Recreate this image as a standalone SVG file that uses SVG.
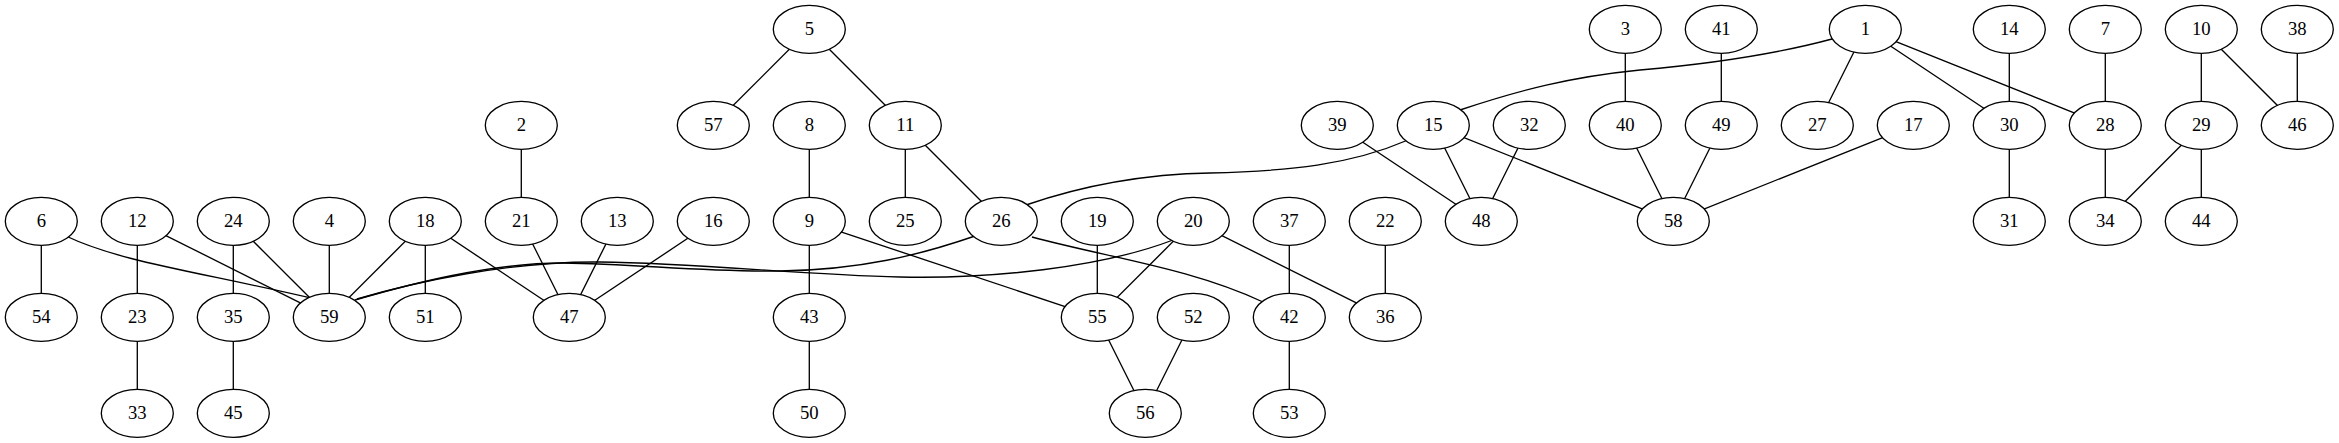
<svg xmlns="http://www.w3.org/2000/svg" width="2339" height="443" viewBox="0 0 2339 443">
<style>
.n ellipse{fill:#fff;stroke:#000;stroke-width:1.33}
.n text{font-family:"Liberation Serif","Times New Roman",serif;font-size:18.67px;text-anchor:middle;fill:#000}
#edges line,#edges path{stroke:#000;stroke-width:1.33;fill:none}
</style>
<rect width="2339" height="443" fill="#fff"/>
<g id="edges">
<line x1="809.3" y1="29.3" x2="713.3" y2="125.3"/>
<line x1="809.3" y1="29.3" x2="905.3" y2="125.3"/>
<line x1="905.3" y1="125.3" x2="905.3" y2="221.3"/>
<line x1="905.3" y1="125.3" x2="1001.3" y2="221.3"/>
<line x1="809.3" y1="125.3" x2="809.3" y2="221.3"/>
<line x1="809.3" y1="221.3" x2="809.3" y2="317.3"/>
<line x1="809.3" y1="221.3" x2="1097.3" y2="317.3"/>
<line x1="809.3" y1="317.3" x2="809.3" y2="413.3"/>
<line x1="521.3" y1="125.3" x2="521.3" y2="221.3"/>
<line x1="521.3" y1="221.3" x2="569.3" y2="317.3"/>
<line x1="617.3" y1="221.3" x2="569.3" y2="317.3"/>
<line x1="713.3" y1="221.3" x2="569.3" y2="317.3"/>
<line x1="425.3" y1="221.3" x2="569.3" y2="317.3"/>
<line x1="425.3" y1="221.3" x2="329.3" y2="317.3"/>
<line x1="425.3" y1="221.3" x2="425.3" y2="317.3"/>
<line x1="41.3" y1="221.3" x2="41.3" y2="317.3"/>
<path d="M66,236 C120,262 200,272 315,299"/>
<line x1="137.3" y1="221.3" x2="137.3" y2="317.3"/>
<line x1="137.3" y1="221.3" x2="329.3" y2="317.3"/>
<line x1="233.3" y1="221.3" x2="233.3" y2="317.3"/>
<line x1="233.3" y1="221.3" x2="329.3" y2="317.3"/>
<line x1="329.3" y1="221.3" x2="329.3" y2="317.3"/>
<line x1="137.3" y1="317.3" x2="137.3" y2="413.3"/>
<line x1="233.3" y1="317.3" x2="233.3" y2="413.3"/>
<path d="M975,236 C920,255 860,270 780,271 C700,272 640,264 563,263 C490,263 410,284 355,300"/>
<path d="M1032,237 C1110,258 1190,268 1263,302"/>
<path d="M1173,240 C1100,268 990,279 900,277 C800,275 700,263 600,262 C510,261 415,282 357,299"/>
<line x1="1193.3" y1="221.3" x2="1097.3" y2="317.3"/>
<line x1="1193.3" y1="221.3" x2="1385.3" y2="317.3"/>
<line x1="1097.3" y1="221.3" x2="1097.3" y2="317.3"/>
<line x1="1097.3" y1="317.3" x2="1145.3" y2="413.3"/>
<line x1="1193.3" y1="317.3" x2="1145.3" y2="413.3"/>
<line x1="1289.3" y1="221.3" x2="1289.3" y2="317.3"/>
<line x1="1289.3" y1="317.3" x2="1289.3" y2="413.3"/>
<line x1="1385.3" y1="221.3" x2="1385.3" y2="317.3"/>
<path d="M1460,110 C1520,90 1570,77 1640,70 C1720,63 1780,53 1832,39"/>
<line x1="1865.3" y1="29.3" x2="1817.3" y2="125.3"/>
<line x1="1865.3" y1="29.3" x2="2009.3" y2="125.3"/>
<line x1="1865.3" y1="29.3" x2="2105.3" y2="125.3"/>
<path d="M1026,205 C1090,183 1150,174 1210,173 C1290,171 1350,165 1408,140"/>
<line x1="1433.3" y1="125.3" x2="1481.3" y2="221.3"/>
<line x1="1433.3" y1="125.3" x2="1673.3" y2="221.3"/>
<line x1="1337.3" y1="125.3" x2="1481.3" y2="221.3"/>
<line x1="1529.3" y1="125.3" x2="1481.3" y2="221.3"/>
<line x1="1625.3" y1="29.3" x2="1625.3" y2="125.3"/>
<line x1="1625.3" y1="125.3" x2="1673.3" y2="221.3"/>
<line x1="1721.3" y1="29.3" x2="1721.3" y2="125.3"/>
<line x1="1721.3" y1="125.3" x2="1673.3" y2="221.3"/>
<line x1="1913.3" y1="125.3" x2="1673.3" y2="221.3"/>
<line x1="2009.3" y1="29.3" x2="2009.3" y2="125.3"/>
<line x1="2009.3" y1="125.3" x2="2009.3" y2="221.3"/>
<line x1="2105.3" y1="29.3" x2="2105.3" y2="125.3"/>
<line x1="2105.3" y1="125.3" x2="2105.3" y2="221.3"/>
<line x1="2201.3" y1="29.3" x2="2201.3" y2="125.3"/>
<line x1="2201.3" y1="29.3" x2="2297.3" y2="125.3"/>
<line x1="2297.3" y1="29.3" x2="2297.3" y2="125.3"/>
<line x1="2201.3" y1="125.3" x2="2105.3" y2="221.3"/>
<line x1="2201.3" y1="125.3" x2="2201.3" y2="221.3"/>
</g>
<g id="node5" class="n"><ellipse cx="809.3" cy="29.3" rx="36" ry="24"/><text x="809.3" y="35">5</text></g>
<g id="node3" class="n"><ellipse cx="1625.3" cy="29.3" rx="36" ry="24"/><text x="1625.3" y="35">3</text></g>
<g id="node41" class="n"><ellipse cx="1721.3" cy="29.3" rx="36" ry="24"/><text x="1721.3" y="35">41</text></g>
<g id="node1" class="n"><ellipse cx="1865.3" cy="29.3" rx="36" ry="24"/><text x="1865.3" y="35">1</text></g>
<g id="node14" class="n"><ellipse cx="2009.3" cy="29.3" rx="36" ry="24"/><text x="2009.3" y="35">14</text></g>
<g id="node7" class="n"><ellipse cx="2105.3" cy="29.3" rx="36" ry="24"/><text x="2105.3" y="35">7</text></g>
<g id="node10" class="n"><ellipse cx="2201.3" cy="29.3" rx="36" ry="24"/><text x="2201.3" y="35">10</text></g>
<g id="node38" class="n"><ellipse cx="2297.3" cy="29.3" rx="36" ry="24"/><text x="2297.3" y="35">38</text></g>
<g id="node2" class="n"><ellipse cx="521.3" cy="125.3" rx="36" ry="24"/><text x="521.3" y="131">2</text></g>
<g id="node57" class="n"><ellipse cx="713.3" cy="125.3" rx="36" ry="24"/><text x="713.3" y="131">57</text></g>
<g id="node8" class="n"><ellipse cx="809.3" cy="125.3" rx="36" ry="24"/><text x="809.3" y="131">8</text></g>
<g id="node11" class="n"><ellipse cx="905.3" cy="125.3" rx="36" ry="24"/><text x="905.3" y="131">11</text></g>
<g id="node39" class="n"><ellipse cx="1337.3" cy="125.3" rx="36" ry="24"/><text x="1337.3" y="131">39</text></g>
<g id="node15" class="n"><ellipse cx="1433.3" cy="125.3" rx="36" ry="24"/><text x="1433.3" y="131">15</text></g>
<g id="node32" class="n"><ellipse cx="1529.3" cy="125.3" rx="36" ry="24"/><text x="1529.3" y="131">32</text></g>
<g id="node40" class="n"><ellipse cx="1625.3" cy="125.3" rx="36" ry="24"/><text x="1625.3" y="131">40</text></g>
<g id="node49" class="n"><ellipse cx="1721.3" cy="125.3" rx="36" ry="24"/><text x="1721.3" y="131">49</text></g>
<g id="node27" class="n"><ellipse cx="1817.3" cy="125.3" rx="36" ry="24"/><text x="1817.3" y="131">27</text></g>
<g id="node17" class="n"><ellipse cx="1913.3" cy="125.3" rx="36" ry="24"/><text x="1913.3" y="131">17</text></g>
<g id="node30" class="n"><ellipse cx="2009.3" cy="125.3" rx="36" ry="24"/><text x="2009.3" y="131">30</text></g>
<g id="node28" class="n"><ellipse cx="2105.3" cy="125.3" rx="36" ry="24"/><text x="2105.3" y="131">28</text></g>
<g id="node29" class="n"><ellipse cx="2201.3" cy="125.3" rx="36" ry="24"/><text x="2201.3" y="131">29</text></g>
<g id="node46" class="n"><ellipse cx="2297.3" cy="125.3" rx="36" ry="24"/><text x="2297.3" y="131">46</text></g>
<g id="node6" class="n"><ellipse cx="41.3" cy="221.3" rx="36" ry="24"/><text x="41.3" y="227">6</text></g>
<g id="node12" class="n"><ellipse cx="137.3" cy="221.3" rx="36" ry="24"/><text x="137.3" y="227">12</text></g>
<g id="node24" class="n"><ellipse cx="233.3" cy="221.3" rx="36" ry="24"/><text x="233.3" y="227">24</text></g>
<g id="node4" class="n"><ellipse cx="329.3" cy="221.3" rx="36" ry="24"/><text x="329.3" y="227">4</text></g>
<g id="node18" class="n"><ellipse cx="425.3" cy="221.3" rx="36" ry="24"/><text x="425.3" y="227">18</text></g>
<g id="node21" class="n"><ellipse cx="521.3" cy="221.3" rx="36" ry="24"/><text x="521.3" y="227">21</text></g>
<g id="node13" class="n"><ellipse cx="617.3" cy="221.3" rx="36" ry="24"/><text x="617.3" y="227">13</text></g>
<g id="node16" class="n"><ellipse cx="713.3" cy="221.3" rx="36" ry="24"/><text x="713.3" y="227">16</text></g>
<g id="node9" class="n"><ellipse cx="809.3" cy="221.3" rx="36" ry="24"/><text x="809.3" y="227">9</text></g>
<g id="node25" class="n"><ellipse cx="905.3" cy="221.3" rx="36" ry="24"/><text x="905.3" y="227">25</text></g>
<g id="node26" class="n"><ellipse cx="1001.3" cy="221.3" rx="36" ry="24"/><text x="1001.3" y="227">26</text></g>
<g id="node19" class="n"><ellipse cx="1097.3" cy="221.3" rx="36" ry="24"/><text x="1097.3" y="227">19</text></g>
<g id="node20" class="n"><ellipse cx="1193.3" cy="221.3" rx="36" ry="24"/><text x="1193.3" y="227">20</text></g>
<g id="node37" class="n"><ellipse cx="1289.3" cy="221.3" rx="36" ry="24"/><text x="1289.3" y="227">37</text></g>
<g id="node22" class="n"><ellipse cx="1385.3" cy="221.3" rx="36" ry="24"/><text x="1385.3" y="227">22</text></g>
<g id="node48" class="n"><ellipse cx="1481.3" cy="221.3" rx="36" ry="24"/><text x="1481.3" y="227">48</text></g>
<g id="node58" class="n"><ellipse cx="1673.3" cy="221.3" rx="36" ry="24"/><text x="1673.3" y="227">58</text></g>
<g id="node31" class="n"><ellipse cx="2009.3" cy="221.3" rx="36" ry="24"/><text x="2009.3" y="227">31</text></g>
<g id="node34" class="n"><ellipse cx="2105.3" cy="221.3" rx="36" ry="24"/><text x="2105.3" y="227">34</text></g>
<g id="node44" class="n"><ellipse cx="2201.3" cy="221.3" rx="36" ry="24"/><text x="2201.3" y="227">44</text></g>
<g id="node54" class="n"><ellipse cx="41.3" cy="317.3" rx="36" ry="24"/><text x="41.3" y="323">54</text></g>
<g id="node23" class="n"><ellipse cx="137.3" cy="317.3" rx="36" ry="24"/><text x="137.3" y="323">23</text></g>
<g id="node35" class="n"><ellipse cx="233.3" cy="317.3" rx="36" ry="24"/><text x="233.3" y="323">35</text></g>
<g id="node59" class="n"><ellipse cx="329.3" cy="317.3" rx="36" ry="24"/><text x="329.3" y="323">59</text></g>
<g id="node51" class="n"><ellipse cx="425.3" cy="317.3" rx="36" ry="24"/><text x="425.3" y="323">51</text></g>
<g id="node47" class="n"><ellipse cx="569.3" cy="317.3" rx="36" ry="24"/><text x="569.3" y="323">47</text></g>
<g id="node43" class="n"><ellipse cx="809.3" cy="317.3" rx="36" ry="24"/><text x="809.3" y="323">43</text></g>
<g id="node55" class="n"><ellipse cx="1097.3" cy="317.3" rx="36" ry="24"/><text x="1097.3" y="323">55</text></g>
<g id="node52" class="n"><ellipse cx="1193.3" cy="317.3" rx="36" ry="24"/><text x="1193.3" y="323">52</text></g>
<g id="node42" class="n"><ellipse cx="1289.3" cy="317.3" rx="36" ry="24"/><text x="1289.3" y="323">42</text></g>
<g id="node36" class="n"><ellipse cx="1385.3" cy="317.3" rx="36" ry="24"/><text x="1385.3" y="323">36</text></g>
<g id="node33" class="n"><ellipse cx="137.3" cy="413.3" rx="36" ry="24"/><text x="137.3" y="419">33</text></g>
<g id="node45" class="n"><ellipse cx="233.3" cy="413.3" rx="36" ry="24"/><text x="233.3" y="419">45</text></g>
<g id="node50" class="n"><ellipse cx="809.3" cy="413.3" rx="36" ry="24"/><text x="809.3" y="419">50</text></g>
<g id="node56" class="n"><ellipse cx="1145.3" cy="413.3" rx="36" ry="24"/><text x="1145.3" y="419">56</text></g>
<g id="node53" class="n"><ellipse cx="1289.3" cy="413.3" rx="36" ry="24"/><text x="1289.3" y="419">53</text></g>
</svg>
